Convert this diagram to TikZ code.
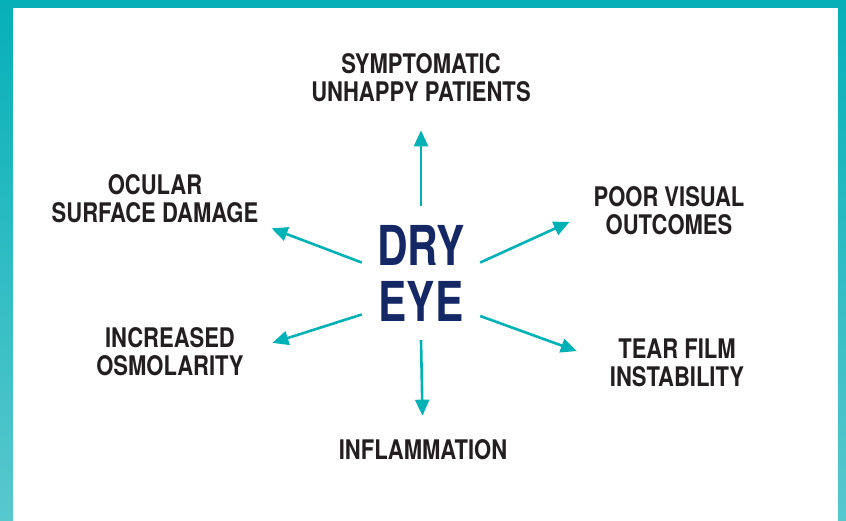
\documentclass[tikz,border=0pt]{standalone}
\usepackage{fontspec}
\usepackage{xcolor}
\usepackage{tikz}
\usetikzlibrary{arrows.meta}
\newfontfamily\outcomefont[FakeStretch=0.815]{TeX Gyre Heros}
\newfontfamily\dryfont[FakeStretch=0.77]{TeX Gyre Heros}
\definecolor{FrameTop}{RGB}{6, 176, 185}
\definecolor{FrameBottom}{RGB}{88, 200, 205}
\definecolor{ArrowTeal}{RGB}{0, 178, 182}
\definecolor{DryNavy}{RGB}{21, 40, 102}
\definecolor{LabelInk}{RGB}{35, 31, 32}

\begin{document}
\begin{tikzpicture}[x=1pt, y=-1pt,
    outcome/.style={text=LabelInk, align=center, inner sep=0pt,
      font=\outcomefont\bfseries\fontsize{27pt}{28pt}\selectfont},
    conn/.style={draw=ArrowTeal, line width=2.6pt,
      -{Triangle[length=16pt, width=14pt]}}]
  \useasboundingbox (0,0) rectangle (846,520);
  % frame
  \shade[top color=FrameTop, bottom color=FrameBottom] (0,0) rectangle (846,520);
  \fill[white] (13,8) rectangle (838,524);

  % centre
  \node[
    text=DryNavy,
    align=center,
    inner sep=0pt,
    minimum width=118pt,
    minimum height=134pt,
    font=\dryfont\bfseries\fontsize{55pt}{56pt}\selectfont
  ] (dry) at (421,273) {DRY\\EYE};

  % outcomes
  \node[outcome] (symp) at (421,78) {SYMPTOMATIC\\UNHAPPY PATIENTS};
  \node[outcome] (ocular) at (155,199) {OCULAR\\SURFACE DAMAGE};
  \node[outcome] (poor) at (669,211) {POOR VISUAL\\OUTCOMES};
  \node[outcome] (incr) at (170,352) {INCREASED\\OSMOLARITY};
  \node[outcome] (tear) at (677,363) {TEAR FILM\\INSTABILITY};
  \node[outcome] (inflam) at (423,450) {INFLAMMATION};

  \draw[conn, shorten >=28pt] (dry.north) -- (symp.south);
  \draw[conn, shorten >=14pt] (dry.170) -- (ocular.south east);
  \draw[conn, shorten >=26pt] (dry.10) -- (poor.west);
  \draw[conn, shorten >=30pt] (dry.215) -- (incr.east);
  \draw[conn, shorten >=35pt] (dry.324) -- (tear.west);
  \draw[conn, shorten >=24pt] (dry.south) -- (inflam.north);
\end{tikzpicture}
\end{document}
